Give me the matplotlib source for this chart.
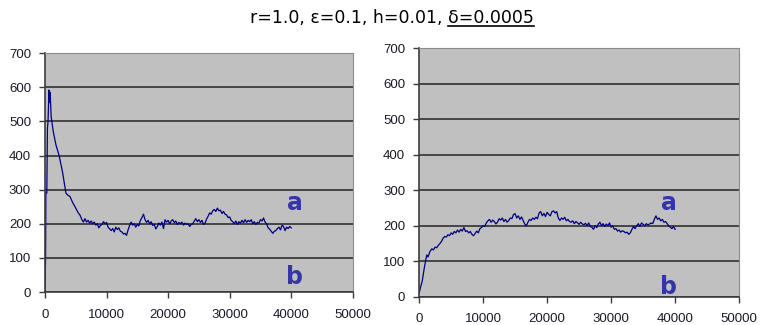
"""
Two population traces, r=1.0, eps=0.1, h=0.01, delta=0.0005.

Writes out.png
"""

import matplotlib

matplotlib.use("Agg")
import matplotlib.pyplot as plt

# Left panel trace (step, value).
left_x = [0, 100, 150, 300, 400, 500, 650, 750, 850, 1000, 1350, 1800, 2300, 2870,
          3400, 3700, 4060, 4500, 4875, 5400, 5700,
          6000, 6250, 6500, 6750, 7000, 7250, 7500, 7750, 8000, 8250, 8500, 8750,
          9000, 9250, 9500, 9750, 10000, 10250, 10500, 10750, 11000, 11250, 11500,
          11750, 12000, 12250, 12500, 12750, 13000, 13250, 13500, 13750, 14000,
          14250, 14500, 14750, 15000, 15250, 15500, 15750, 16000, 16250, 16500,
          16750, 17000, 17250, 17500, 17750, 18000, 18250, 18500, 18750, 19000,
          19250, 19500, 19750, 20000, 20250, 20500, 20750, 21000, 21250, 21500,
          21750, 22000, 22250, 22500, 22750, 23000, 23250, 23500, 23750, 24000,
          24250, 24500, 24750, 25000, 25250, 25500, 25750, 26000, 26250, 26500,
          26750, 27000, 27250, 27500, 27750, 28000, 28250, 28500, 28750, 29000,
          29250, 29500, 29750, 30000, 30250, 30500, 30750, 31000, 31250, 31500,
          31750, 32000, 32250, 32500, 32750, 33000, 33250, 33500, 33750, 34000,
          34250, 34500, 34750, 35000, 35250, 35500, 35750, 36000, 36250, 36500,
          36750, 37000, 37250, 37500, 37750, 38000, 38250, 38500, 38750, 39000,
          39250, 39500, 39750, 40000]
left_y = [0, 100, 290, 290, 480, 500, 592, 555, 585, 515, 470, 430, 400, 350,
          290, 284, 280, 262, 250, 232, 225,
          212, 205, 215, 205, 210, 202, 208, 200, 205, 196, 200, 188,
          195, 198, 206, 200, 204, 190, 185, 180, 186, 176, 190,
          183, 188, 178, 176, 170, 172, 166, 182, 195, 205,
          196, 200, 190, 198, 194, 210, 218, 228, 212, 204,
          210, 200, 206, 195, 198, 185, 192, 202, 196, 205,
          186, 212, 205, 210, 200, 208, 212, 203, 208, 198,
          204, 200, 205, 196, 202, 198, 200, 192, 198, 200,
          208, 215, 206, 212, 204, 210, 198, 202, 214, 222,
          232, 228, 238, 242, 236, 246, 238, 240, 230, 236,
          228, 226, 218, 220, 210, 206, 200, 208, 198, 206,
          202, 210, 203, 212, 204, 210, 206, 212, 200, 206,
          198, 204, 202, 212, 208, 217, 205, 200, 188, 184,
          178, 172, 178, 180, 186, 190, 182, 196, 192, 180,
          190, 186, 192, 188]

# Right panel trace.
right_x = [0, 200, 500, 800, 1000, 1200, 1400, 1700, 2000, 2250, 2500, 2750,
           3000, 3250, 3500, 3750, 4000, 4250, 4500, 4750, 5000, 5250, 5500, 5750,
           6000, 6250, 6500, 6750, 7000, 7250, 7500, 7750, 8000, 8250, 8500, 8750,
           9000, 9250, 9500, 9750, 10000, 10250, 10500, 10750, 11000, 11250, 11500,
           11750, 12000, 12250, 12500, 12750, 13000, 13250, 13500, 13750, 14000,
           14250, 14500, 14750, 15000, 15250, 15500, 15750, 16000, 16250, 16500,
           16750, 17000, 17250, 17500, 17750, 18000, 18250, 18500, 18750, 19000,
           19250, 19500, 19750, 20000, 20250, 20500, 20750, 21000, 21250, 21500,
           21750, 22000, 22250, 22500, 22750, 23000, 23250, 23500, 23750, 24000,
           24250, 24500, 24750, 25000, 25250, 25500, 25750, 26000, 26250, 26500,
           26750, 27000, 27250, 27500, 27750, 28000, 28250, 28500, 28750, 29000,
           29250, 29500, 29750, 30000, 30250, 30500, 30750, 31000, 31250, 31500,
           31750, 32000, 32250, 32500, 32750, 33000, 33250, 33500, 33750, 34000,
           34250, 34500, 34750, 35000, 35250, 35500, 35750, 36000, 36250, 36500,
           36750, 37000, 37250, 37500, 37750, 38000, 38250, 38500, 38750, 39000,
           39250, 39500, 39750, 40000]
right_y = [10, 25, 45, 80, 100, 118, 112, 128, 135, 132, 140, 138,
           145, 150, 156, 165, 170, 168, 175, 172, 180, 176, 184, 180,
           188, 182, 190, 185, 195, 184, 186, 180, 184, 176, 172, 178,
           185, 180, 192, 195, 200, 198, 208, 214, 218, 210, 216,
           212, 205, 210, 220, 216, 222, 212, 218, 210, 215,
           222, 220, 232, 234, 222, 228, 218, 225, 215, 205,
           200, 210, 218, 215, 222, 218, 224, 220, 236, 240,
           228, 235, 226, 238, 232, 228, 240, 242, 236, 240,
           222, 215, 222, 218, 224, 214, 218, 212, 210, 214,
           206, 212, 208, 204, 210, 205, 203, 207, 200, 208,
           198, 196, 190, 200, 195, 205, 210, 200, 206, 198,
           205, 200, 208, 196, 200, 190, 192, 185, 188, 182,
           186, 184, 180, 182, 176, 180, 190, 198, 192, 200,
           206, 198, 208, 204, 200, 206, 202, 205, 208, 206,
           218, 228, 218, 222, 214, 218, 210, 212, 206, 200,
           196, 192, 198, 190]

x_ticks = [0, 10000, 20000, 30000, 40000, 50000]
y_ticks = [0, 100, 200, 300, 400, 500, 600, 700]

LINE = "#000080"
LABEL = "#3535a8"
GRID = "#3c3c3c"


def style_axes(ax):
    ax.set_facecolor("#c0c0c0")
    ax.set_xlim(0, 50000)
    ax.set_ylim(0, 700)
    ax.set_xticks(x_ticks)
    ax.set_yticks(y_ticks)
    ax.tick_params(labelsize=9.5, length=4, width=1, color=GRID,
                   labelcolor="#1a1a2a")
    ax.tick_params(axis="y", pad=6)
    ax.tick_params(axis="x", pad=8)
    ax.grid(axis="y", color=GRID, linewidth=1.3)
    ax.set_axisbelow(True)
    for side in ("top", "right"):
        ax.spines[side].set_color("#8c8c8c")
    for side in ("left", "bottom"):
        ax.spines[side].set_color(GRID)
        ax.spines[side].set_linewidth(1.2)
    for lab in ax.get_xticklabels() + ax.get_yticklabels():
        lab.set_fontfamily("Liberation Sans")


def main():
    fig = plt.figure(figsize=(7.62, 3.25), dpi=100)

    ax1 = fig.add_axes([0.059, 0.1015, 0.404, 0.735])
    style_axes(ax1)
    ax1.plot(left_x, left_y, color=LINE, linewidth=0.9)
    ax1.text(40600, 260, "a", color=LABEL, fontsize=17, fontweight="bold",
             ha="center", va="center")
    ax1.text(40600, 44, "b", color=LABEL, fontsize=17, fontweight="bold",
             ha="center", va="center")

    ax2 = fig.add_axes([0.550, 0.087, 0.420, 0.764])
    style_axes(ax2)
    ax2.plot(right_x, right_y, color=LINE, linewidth=0.9)
    ax2.text(39000, 263, "a", color=LABEL, fontsize=17, fontweight="bold",
             ha="center", va="center")
    ax2.text(39000, 28, "b", color=LABEL, fontsize=17, fontweight="bold",
             ha="center", va="center", clip_on=False)

    # Title, with the delta part underlined.
    split_x = 448 / 762
    ty = 1 - 18 / 325
    fig.text(split_x, ty, "r=1.0, ε=0.1, h=0.01, ", fontsize=12.5,
             ha="right", va="center")
    t2 = fig.text(split_x, ty, "δ=0.0005", fontsize=12.5, ha="left", va="center")
    fig.canvas.draw()
    bb = t2.get_window_extent().transformed(fig.transFigure.inverted())
    uy = bb.y0 + 0.002
    fig.add_artist(plt.Line2D([bb.x0, bb.x1], [uy, uy], color="black",
                              linewidth=1.2, transform=fig.transFigure))

    fig.savefig("out.png", dpi=100)
    plt.close(fig)


if __name__ == "__main__":
    main()
